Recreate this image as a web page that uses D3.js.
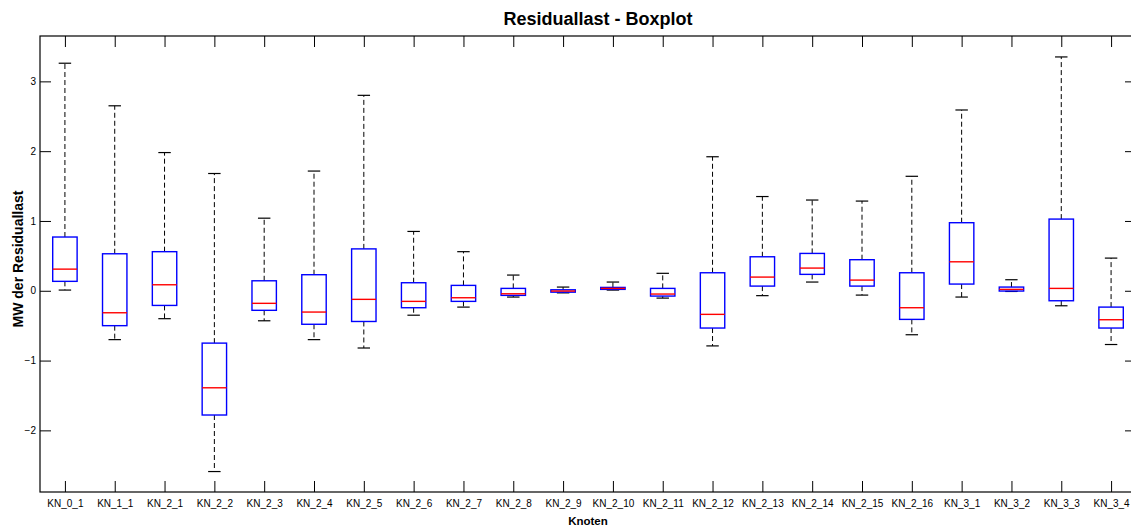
<!DOCTYPE html>
<html>
<head>
<meta charset="utf-8">
<script src="https://cdn.jsdelivr.net/npm/d3@7"></script>
<style>
  html, body { margin: 0; padding: 0; background: #fff; }
  svg { display: block; font-family: "Liberation Sans", Arial, sans-serif; }
</style>
</head>
<body>
<svg id="chart" width="1131" height="528"></svg>
<script>
const categories = ["KN_0_1","KN_1_1","KN_2_1","KN_2_2","KN_2_3","KN_2_4","KN_2_5","KN_2_6","KN_2_7","KN_2_8","KN_2_9","KN_2_10","KN_2_11","KN_2_12","KN_2_13","KN_2_14","KN_2_15","KN_2_16","KN_3_1","KN_3_2","KN_3_3","KN_3_4"];
const whiskerLow  = [0.01,-0.70,-0.40,-2.59,-0.43,-0.70,-0.82,-0.35,-0.234,-0.09,-0.03,0.01,-0.105,-0.79,-0.07,0.125,-0.062,-0.63,-0.09,-0.01,-0.215,-0.77];
const q1          = [0.135,-0.50,-0.21,-1.78,-0.28,-0.48,-0.44,-0.243,-0.152,-0.066,-0.02,0.02,-0.076,-0.534,0.067,0.235,0.067,-0.41,0.096,-0.004,-0.143,-0.534];
const median      = [0.31,-0.315,0.086,-1.39,-0.18,-0.305,-0.123,-0.152,-0.10,-0.043,-0.004,0.034,-0.047,-0.338,0.196,0.325,0.153,-0.243,0.415,0.02,0.034,-0.415];
const q3          = [0.77,0.53,0.56,-0.75,0.143,0.23,0.60,0.115,0.077,0.034,0.014,0.048,0.034,0.258,0.487,0.535,0.445,0.258,0.975,0.053,1.027,-0.234];
const whiskerHigh = [3.26,2.65,1.98,1.68,1.04,1.715,2.80,0.85,0.56,0.225,0.053,0.125,0.25,1.92,1.35,1.30,1.285,1.64,2.59,0.158,3.35,0.468];
const yTicks = [-2,-1,0,1,2,3];

(function () {
const svg = d3.select("#chart");
const mL = 40, mR = 1136, mT = 36, mB = 492;

const x = d3.scaleLinear().domain([0.5, categories.length + 0.5]).range([mL, mR]);
const y = d3.scaleLinear().domain([-2.883, 3.65]).range([mB, mT]);
const idx = d3.range(1, categories.length + 1);

const tickLen = 11;
const gB = svg.append("g").attr("transform", `translate(0,${mB})`)
  .call(d3.axisBottom(x).tickValues(idx).tickFormat(i => categories[i-1]).tickSizeInner(-tickLen).tickSizeOuter(0).tickPadding(6));
const gT = svg.append("g").attr("transform", `translate(0,${mT})`)
  .call(d3.axisTop(x).tickValues(idx).tickFormat("").tickSizeInner(-tickLen).tickSizeOuter(0));
const gL = svg.append("g").attr("transform", `translate(${mL},0)`)
  .call(d3.axisLeft(y).tickValues(yTicks).tickFormat(d3.format("d")).tickSizeInner(-tickLen).tickSizeOuter(0).tickPadding(5));
const gR = svg.append("g").attr("transform", `translate(${mR},0)`)
  .call(d3.axisRight(y).tickValues(yTicks).tickFormat("").tickSizeInner(-tickLen).tickSizeOuter(0));

[gB, gT, gL, gR].forEach(g => {
  g.select(".domain").remove();
  g.selectAll(".tick line").attr("stroke", "#000").attr("stroke-width", 1);
  g.selectAll(".tick text").attr("fill", "#000").style("font-size", "10px").style("font-family", "Liberation Sans, Arial, sans-serif");
});
gB.selectAll(".tick text").attr("y", 8).attr("dy", "0.71em");
gL.selectAll(".tick text").attr("x", -4);

svg.append("rect").attr("x", mL).attr("y", mT).attr("width", mR - mL).attr("height", mB - mT)
  .attr("fill", "none").attr("stroke", "#000").attr("stroke-width", 1.2);

const bw = 0.49, cw = 0.25;
const g = svg.append("g");
idx.forEach((c, k) => {
  const cx = x(c);
  g.append("line").attr("x1", cx).attr("x2", cx).attr("y1", y(q3[k])).attr("y2", y(whiskerHigh[k]))
    .attr("stroke", "#000").attr("stroke-width", 1).attr("stroke-dasharray", "5,3");
  g.append("line").attr("x1", cx).attr("x2", cx).attr("y1", y(q1[k])).attr("y2", y(whiskerLow[k]))
    .attr("stroke", "#000").attr("stroke-width", 1).attr("stroke-dasharray", "5,3");
  [whiskerHigh[k], whiskerLow[k]].forEach(v => {
    g.append("line").attr("x1", x(c - cw/2)).attr("x2", x(c + cw/2)).attr("y1", y(v)).attr("y2", y(v))
      .attr("stroke", "#000").attr("stroke-width", 1.2);
  });
  g.append("rect").attr("x", x(c - bw/2)).attr("width", x(c + bw/2) - x(c - bw/2))
    .attr("y", y(q3[k])).attr("height", Math.max(0.5, y(q1[k]) - y(q3[k])))
    .attr("fill", "none").attr("stroke", "#0000ff").attr("stroke-width", 1.4);
  g.append("line").attr("x1", x(c - bw/2)).attr("x2", x(c + bw/2)).attr("y1", y(median[k])).attr("y2", y(median[k]))
    .attr("stroke", "#ff0000").attr("stroke-width", 1.4);
});

svg.append("text").attr("x", 598).attr("y", 25).attr("text-anchor", "middle")
  .style("font-size", "18px").style("font-weight", "bold").text("Residuallast - Boxplot");
svg.append("text").attr("x", 588).attr("y", 525).attr("text-anchor", "middle")
  .style("font-size", "11.5px").style("font-weight", "bold").text("Knoten");
svg.append("text").attr("transform", `translate(23,${(mT+mB)/2 - 5}) rotate(-90)`).attr("text-anchor", "middle")
  .style("font-size", "14px").style("font-weight", "bold").text("MW der Residuallast");
})();
</script>
</body>
</html>
